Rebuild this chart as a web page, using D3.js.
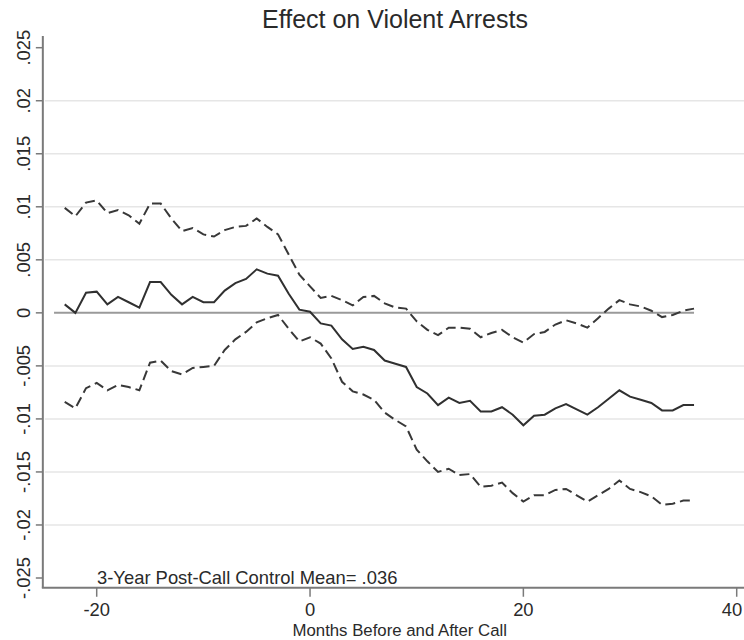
<!DOCTYPE html>
<html>
<head>
<meta charset="utf-8">
<script src="https://cdn.jsdelivr.net/npm/d3@7"></script>
<style>
  html, body { margin: 0; padding: 0; background: #fff; }
  svg { display: block; }
  text { font-family: "Liberation Sans", Arial, sans-serif; fill: #2a2a2a; }
</style>
</head>
<body>
<svg id="chart" width="744" height="640"></svg>
<script>
// ---- data ----
const months = d3.range(-23, 37);
const coef = [0.0008, 0.0000, 0.0019, 0.0020, 0.0008, 0.0015, 0.0010, 0.0005, 0.0029, 0.0029,
  0.0017, 0.0008, 0.0015, 0.0010, 0.0010, 0.0021, 0.0028, 0.0032, 0.0041, 0.0037,
  0.0035, 0.0018, 0.0003, 0.0001, -0.0010, -0.0012, -0.0025, -0.0034, -0.0032, -0.0035,
  -0.0045, -0.0048, -0.0051, -0.0070, -0.0076, -0.0087, -0.0080, -0.0085, -0.0083, -0.0093,
  -0.0093, -0.0089, -0.0096, -0.0106, -0.0097, -0.0096, -0.0090, -0.0086, -0.0091, -0.0096,
  -0.0089, -0.0081, -0.0073, -0.0079, -0.0082, -0.0085, -0.0092, -0.0092, -0.0087, -0.0087];
const upper = [0.0099, 0.0091, 0.0104, 0.0106, 0.0094, 0.0097, 0.0092, 0.0084, 0.0103, 0.0103,
  0.0089, 0.0077, 0.0080, 0.0074, 0.0072, 0.0078, 0.0081, 0.0082, 0.0089, 0.0081,
  0.0074, 0.0055, 0.0036, 0.0025, 0.0014, 0.0016, 0.0012, 0.0007, 0.0015, 0.0016,
  0.0009, 0.0005, 0.0004, -0.0008, -0.0016, -0.0021, -0.0014, -0.0014, -0.0015, -0.0023,
  -0.0019, -0.0016, -0.0023, -0.0028, -0.0020, -0.0018, -0.0011, -0.0007, -0.0010, -0.0014,
  -0.0005, 0.0004, 0.0012, 0.0008, 0.0006, 0.0002, -0.0004, -0.0002, 0.0002, 0.0004];
const lower = [-0.0084, -0.0090, -0.0071, -0.0066, -0.0073, -0.0068, -0.0070, -0.0073, -0.0047, -0.0045,
  -0.0055, -0.0058, -0.0052, -0.0051, -0.0050, -0.0035, -0.0025, -0.0018, -0.0009, -0.0005,
  -0.0002, -0.0015, -0.0027, -0.0023, -0.0029, -0.0043, -0.0065, -0.0074, -0.0077, -0.0082,
  -0.0094, -0.0101, -0.0107, -0.0129, -0.0140, -0.0150, -0.0147, -0.0153, -0.0152, -0.0164,
  -0.0163, -0.0160, -0.0170, -0.0178, -0.0172, -0.0172, -0.0167, -0.0166, -0.0172, -0.0178,
  -0.0172, -0.0166, -0.0158, -0.0166, -0.0169, -0.0173, -0.0181, -0.0180, -0.0177, -0.0177];
const xTicks = [-20, 0, 20, 40];
const yTicks = [-0.025, -0.02, -0.015, -0.01, -0.005, 0, 0.005, 0.01, 0.015, 0.02, 0.025];
const yTickLabels = ["-.025", "-.02", "-.015", "-.01", "-.005", "0", ".005", ".01", ".015", ".02", ".025"];
const zeroLineSpan = [-24, 36];
const title = "Effect on Violent Arrests";
const xTitle = "Months Before and After Call";
const note = "3-Year Post-Call Control Mean= .036";

// ---- scales ----
const x = d3.scaleLinear().domain([-20, 40]).range([96.7, 736.7]);
const y = d3.scaleLinear().domain([-0.025, 0.025]).range([578, 47.7]);
const xMin = -25.05, xMax = 41.5;
const yMin = -0.02592, yMax = 0.0261;

const svg = d3.select("#chart");
const FS = 18.4;
const W = 744;

// gridlines (not at extremes, not at 0)
svg.append("g").selectAll("line")
  .data(yTicks.filter(v => v !== 0 && Math.abs(v) < 0.024))
  .join("line")
  .attr("x1", x(xMin) + 2).attr("x2", x(xMax))
  .attr("y1", d => y(d)).attr("y2", d => y(d))
  .attr("stroke", "#e6e6e6").attr("stroke-width", 1.5);

// zero reference line
svg.append("line")
  .attr("x1", x(zeroLineSpan[0])).attr("x2", x(zeroLineSpan[1]))
  .attr("y1", y(0)).attr("y2", y(0))
  .attr("stroke", "#9a9a9a").attr("stroke-width", 2);

// series
const pts = (arr) => months.map((m, i) => [m, arr[i]]);
const line = d3.line().x(d => x(d[0])).y(d => y(d[1]));
svg.append("path").datum(pts(upper)).attr("d", line)
  .attr("fill", "none").attr("stroke", "#383838").attr("stroke-width", 2)
  .attr("stroke-dasharray", "10,5");
svg.append("path").datum(pts(lower)).attr("d", line)
  .attr("fill", "none").attr("stroke", "#383838").attr("stroke-width", 2)
  .attr("stroke-dasharray", "10,5");
svg.append("path").datum(pts(coef)).attr("d", line)
  .attr("fill", "none").attr("stroke", "#303030").attr("stroke-width", 2);

// y axis
const yAxisG = svg.append("g").attr("transform", `translate(${x(xMin)},0)`);
yAxisG.append("line").attr("x1", 0).attr("x2", 0)
  .attr("y1", y(yMax)).attr("y2", y(yMin))
  .attr("stroke", "#7a7a7a").attr("stroke-width", 2);
yAxisG.selectAll("line.tick").data(yTicks).join("line").attr("class", "tick")
  .attr("x1", -7).attr("x2", 0)
  .attr("y1", d => y(d)).attr("y2", d => y(d))
  .attr("stroke", "#7a7a7a").attr("stroke-width", 1.5);
yAxisG.selectAll("text").data(yTicks).join("text")
  .attr("transform", d => `translate(-13,${y(d)}) rotate(-90)`)
  .attr("text-anchor", "middle")
  .attr("font-size", FS)
  .text((d, i) => yTickLabels[i]);

// x axis
const xAxisG = svg.append("g").attr("transform", `translate(0,${y(yMin)})`);
xAxisG.append("line").attr("x1", x(xMin) - 1).attr("x2", x(xMax))
  .attr("y1", 0).attr("y2", 0)
  .attr("stroke", "#7a7a7a").attr("stroke-width", 2);
xAxisG.selectAll("line.tick").data(xTicks).join("line").attr("class", "tick")
  .attr("x1", d => x(d)).attr("x2", d => x(d))
  .attr("y1", 0).attr("y2", 9)
  .attr("stroke", "#7a7a7a").attr("stroke-width", 1.5);
xAxisG.selectAll("text").data(xTicks).join("text")
  .attr("x", d => Math.min(x(d), W - 12))
  .attr("y", 28.5)
  .attr("text-anchor", "middle")
  .attr("font-size", FS)
  .text(d => d);

// axis title (kept just inside the frame)
svg.append("text")
  .attr("x", (x(xMin) + x(xMax)) / 2 + 2).attr("y", 636)
  .attr("text-anchor", "middle").attr("font-size", 16.8)
  .text(xTitle);

// note
svg.append("text")
  .attr("x", 97).attr("y", 584)
  .attr("font-size", FS)
  .text(note);

// title
svg.append("text")
  .attr("x", 395).attr("y", 28)
  .attr("text-anchor", "middle").attr("font-size", 25)
  .text(title);
</script>
</body>
</html>
